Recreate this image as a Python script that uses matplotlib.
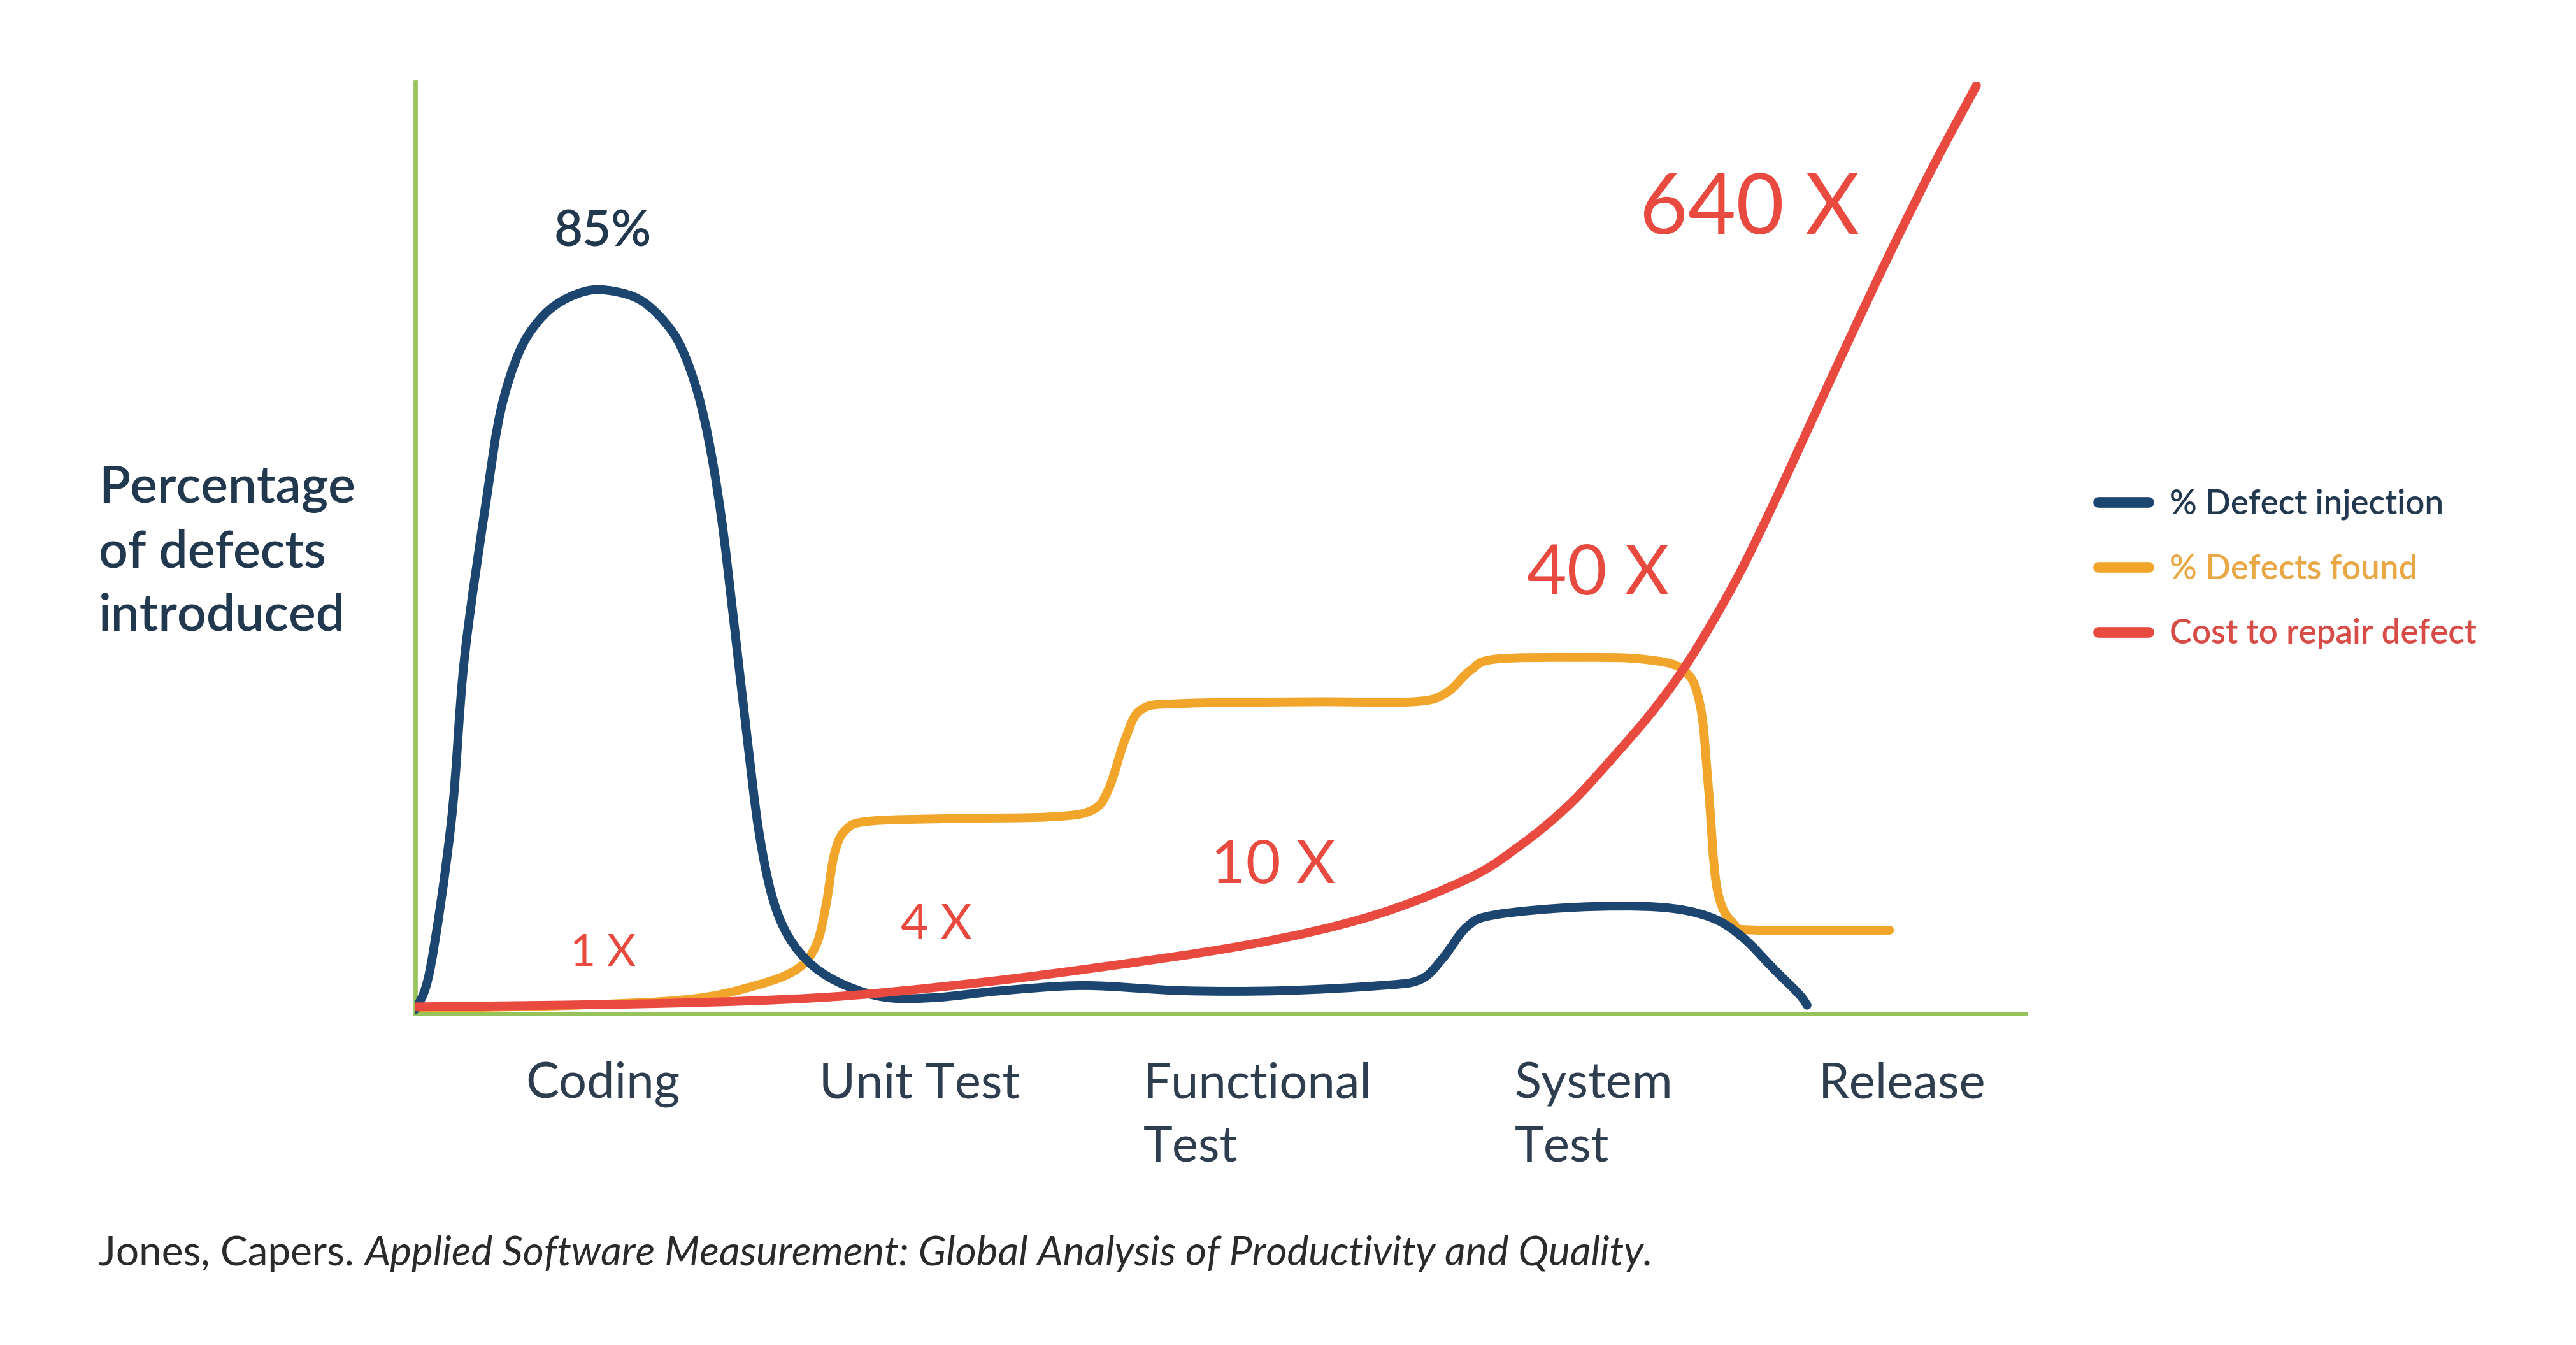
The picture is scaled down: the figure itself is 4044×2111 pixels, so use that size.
import matplotlib
matplotlib.use("Agg")
import numpy as np
import matplotlib.pyplot as plt
from matplotlib.path import Path
from matplotlib.patches import PathPatch
from matplotlib.lines import Line2D

plt.rcParams['font.family'] = ['Lato', 'DejaVu Sans']

# x: stage position (axis runs 0..5), y: percent of defects
stages = ['Coding', 'Unit Test', 'Functional\nTest', 'System\nTest', 'Release']
stage_pos = [0.582, 1.566, 2.26, 3.413, 4.617]
stage_ha = ['center', 'center', 'left', 'left', 'center']

inj_x = [0.0, 0.046, 0.112, 0.153, 0.224, 0.265, 0.321, 0.383, 0.454, 0.546,
         0.638, 0.709, 0.776, 0.827, 0.878, 0.918, 0.954, 0.99, 1.031, 1.066,
         1.107, 1.158, 1.235, 1.337, 1.464, 1.617, 1.821, 2.077, 2.383, 2.689,
         2.995, 3.12, 3.19, 3.265, 3.352, 3.607, 3.862, 4.015, 4.117, 4.219,
         4.296, 4.321]
inj_y = [0.5, 5.2, 22.6, 41.8, 61.1, 70.7, 77.5, 81.3, 83.6, 84.9,
         84.6, 83.5, 81.1, 78.1, 72.7, 65.9, 57.2, 45.7, 32.2, 21.6,
         13.9, 9.1, 5.6, 3.3, 1.9, 1.9, 2.7, 3.3, 2.7, 2.7,
         3.3, 4.0, 6.5, 10.2, 11.6, 12.5, 12.5, 11.4, 9.1, 5.2,
         2.3, 1.0]

found_x = [0.0, 0.495, 0.852, 1.056, 1.184, 1.245, 1.276, 1.301, 1.337, 1.413, 1.668, 1.974,
           2.102, 2.153, 2.204, 2.255, 2.383, 2.791, 3.097, 3.199, 3.276, 3.352, 3.607,
           3.811, 3.939, 3.99, 4.015, 4.041, 4.092, 4.168, 4.577]
found_y = [0.6, 1.0, 1.7, 3.3, 5.2, 8.1, 12.9, 18.7, 21.6, 22.6, 22.9, 23.1,
           23.9, 26.4, 32.2, 35.7, 36.4, 36.6, 36.6, 37.6, 40.3, 41.6, 41.8,
           41.6, 40.3, 36.0, 26.4, 14.8, 10.6, 9.8, 9.8]

cost_x = [0.0, 0.75, 1.26, 1.668, 2.077, 2.587, 2.964, 3.265, 3.429, 3.582, 3.724,
          3.852, 3.964, 4.102, 4.219, 4.337, 4.464, 4.592, 4.719, 4.847]
cost_y = [0.8, 1.2, 1.9, 3.3, 5.2, 8.1, 11.4, 15.8, 19.7, 24.5, 30.3,
          36.0, 42.0, 51.0, 60.0, 69.7, 80.1, 90.3, 99.9, 108.9]

cost_labels = ['1 X', '4 X', '10 X', '40 X', '640 X']
cost_label_x = [0.582, 1.617, 2.663, 3.673, 4.143]
cost_label_y = [7.1, 10.4, 17.3, 51.5, 94.3]
cost_label_size = [25, 27, 34, 39, 47]

peak_label = '85%'

NAVY = '#1c4670'
ORANGE = '#f2a52b'
RED = '#e84a40'
GREEN = '#96c35a'
TEXT = '#22384f'


def smooth_path(xs, ys):
    # bezier segments through the read points (catmull-rom style handles)
    pts = np.column_stack([xs, ys])
    n = len(pts)
    verts = [pts[0]]
    codes = [Path.MOVETO]
    for i in range(n - 1):
        p0 = pts[max(i - 1, 0)]
        p1 = pts[i]
        p2 = pts[i + 1]
        p3 = pts[min(i + 2, n - 1)]
        verts += [p1 + (p2 - p0) / 6, p2 - (p3 - p1) / 6, p2]
        codes += [Path.CURVE4] * 3
    return Path(verts, codes)


def main():
    fig = plt.figure(figsize=(20.22, 10.555), dpi=200)
    ax = fig.add_axes([0.1612, 0.2463, 0.6252, 0.6926])

    lw = 5.0
    series = [(inj_x, inj_y, NAVY, '% Defect injection', 3),
              (found_x, found_y, ORANGE, '% Defects found', 2),
              (cost_x, cost_y, RED, 'Cost to repair defect', 4)]
    handles = []
    for xs, ys, c, lab, z in series:
        ax.add_patch(PathPatch(smooth_path(xs, ys), facecolor='none', edgecolor=c,
                               lw=lw, capstyle='round', joinstyle='round', zorder=z))
        handles.append(Line2D([], [], color=c, lw=6, solid_capstyle='round', label=lab))

    ax.set_xlim(0, 5)
    ax.set_ylim(0, 109.3)
    for s in ['top', 'right']:
        ax.spines[s].set_visible(False)
    for s in ['left', 'bottom']:
        ax.spines[s].set_color(GREEN)
        ax.spines[s].set_linewidth(2.4)
    ax.set_yticks([])
    ax.set_xticks(stage_pos)
    ax.set_xticklabels(stages, fontsize=28, color='#2e3e4e', linespacing=1.5)
    for lab, ha in zip(ax.get_xticklabels(), stage_ha):
        lab.set_horizontalalignment(ha)
    ax.tick_params(axis='x', length=0, pad=27)

    for txt, x, y, fs in zip(cost_labels, cost_label_x, cost_label_y, cost_label_size):
        ax.text(x, y, txt, color=RED, fontsize=fs, ha='center', va='center', zorder=5)
    ax.text(0.582, 91.7, peak_label, color=TEXT, fontsize=28, fontweight='semibold',
            ha='center', va='center')

    fig.text(0.0383, 0.589, 'Percentage\nof defects\nintroduced', fontsize=29,
             fontweight='semibold', color=TEXT, ha='left', va='center', linespacing=1.42)

    leg = fig.legend(handles=handles, loc='center left', bbox_to_anchor=(0.808, 0.577),
                     frameon=False, handlelength=1.5, handletextpad=0.62, labelspacing=1.0,
                     borderpad=0, prop={'weight': 'semibold', 'size': 19})
    for t, c in zip(leg.get_texts(), [TEXT, '#e9a845', '#d84c48']):
        t.set_color(c)

    t1 = fig.text(0.0383, 0.054, 'Jones, Capers. ', fontsize=23, color='#2a2a2a',
                  ha='left', va='bottom')
    ax.annotate('Applied Software Measurement: Global Analysis of Productivity and Quality.',
                xy=(1, 0), xycoords=t1, fontsize=23, color='#2a2a2a', style='italic',
                ha='left', va='bottom', annotation_clip=False)

    fig.savefig('out.png', dpi=200, facecolor='white')


if __name__ == "__main__":
    main()
